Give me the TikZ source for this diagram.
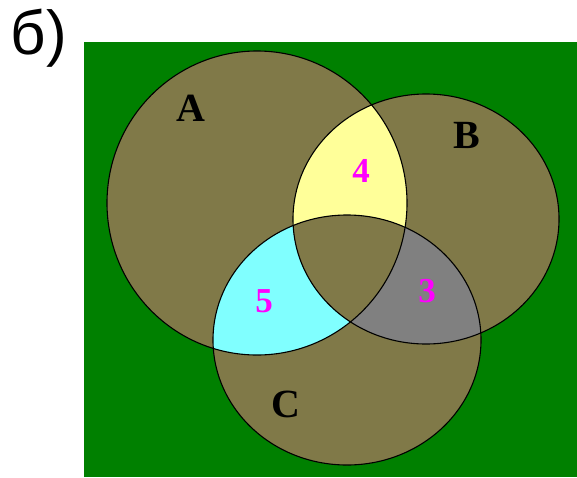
\documentclass[tikz,border=0pt]{standalone}
\usepackage{fontspec}
\setmainfont{Liberation Serif}
\newfontfamily\labelfont{Liberation Sans}

\definecolor{bggreen}{RGB}{0,128,0}
\definecolor{setolive}{RGB}{128,121,72}
\definecolor{regyellow}{RGB}{255,255,153}
\definecolor{regcyan}{RGB}{128,255,255}
\definecolor{reggray}{RGB}{128,128,128}
\definecolor{nummagenta}{RGB}{255,0,255}

\tikzstyle{setname} = [font=\fontsize{40}{42}\selectfont\bfseries, text=black]
\tikzstyle{count} = [font=\fontsize{35}{37}\selectfont\bfseries, text=nummagenta]
\tikzstyle{outline} = [draw=black, line width=1.1pt]

% the three sets
\def\setA{(257,203) ellipse [x radius=150, y radius=152]}
\def\setB{(426,219) ellipse [x radius=133, y radius=125]}
\def\setC{(347,340) ellipse [x radius=134, y radius=125]}

\begin{document}
\begin{tikzpicture}[x=1pt, y=-1pt]

\useasboundingbox (0,0) rectangle (577,477);
\fill [white] (0,0) rectangle (577,477);
\fill [bggreen] (84,42) rectangle (577,477);

\fill [setolive] \setA;
\fill [setolive] \setB;
\fill [setolive] \setC;

% A and B
\begin{scope}
\clip \setA;
\fill [regyellow] \setB;
\end{scope}
% A and C
\begin{scope}
\clip \setA;
\fill [regcyan] \setC;
\end{scope}
% B and C
\begin{scope}
\clip \setB;
\fill [reggray] \setC;
\end{scope}
% all three
\begin{scope}
\clip \setA;
\clip \setB;
\fill [setolive] \setC;
\end{scope}

\draw [outline] \setA;
\draw [outline] \setB;
\draw [outline] \setC;

\node (title) at (39,38) {\labelfont\fontsize{62}{64}\selectfont б)};

\node (nameA) [setname] at (191,108) {A};
\node (nameB) [setname] at (467,135) {B};
\node (nameC) [setname] at (286,404) {C};

\node (numAB) [count] at (361,171) {4};
\node (numAC) [count] at (264,301) {5};
\node (numBC) [count] at (427,291) {3};

\end{tikzpicture}
\end{document}
